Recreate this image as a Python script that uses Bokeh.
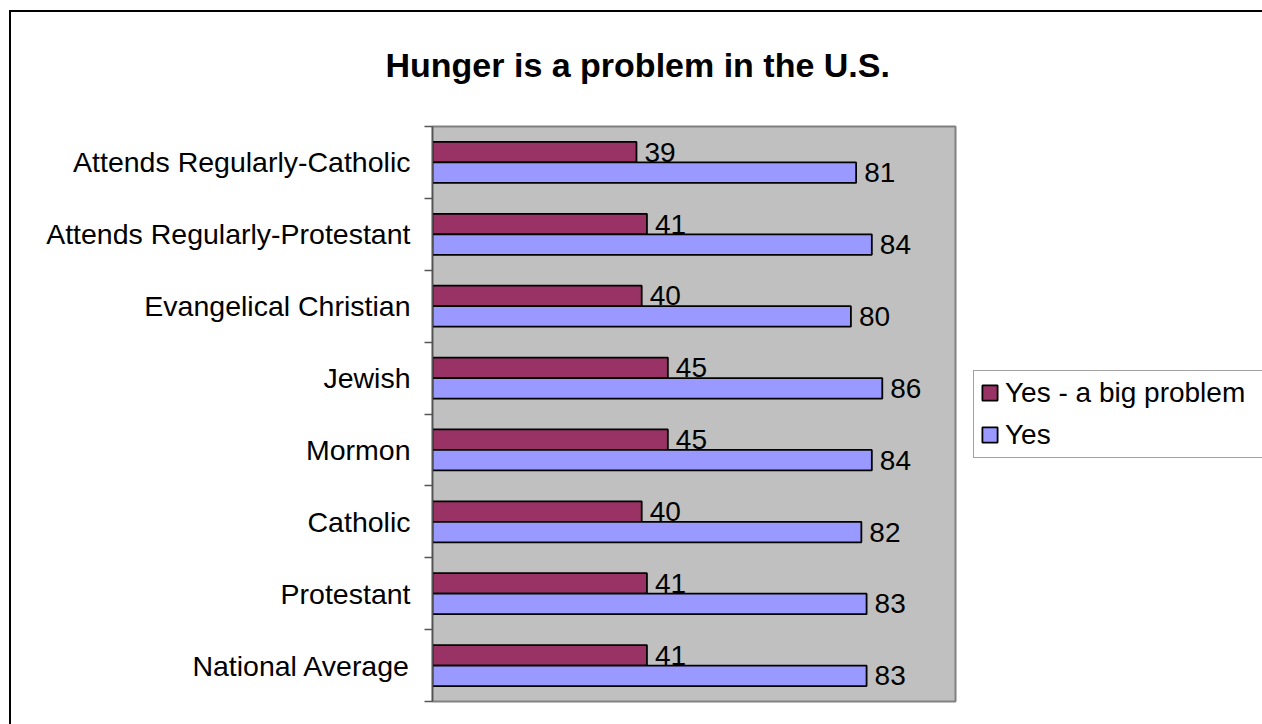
import numpy as np
from bokeh.plotting import figure
from bokeh.models import (ColumnDataSource, Range1d, FixedTicker, Legend, LegendItem, Title)
from bokeh.core.properties import value
from bokeh.embed import file_html
from bokeh.resources import INLINE

# ---- data (bottom to top, as in the chart) ----
categories = ["National Average", "Protestant", "Catholic", "Mormon", "Jewish",
              "Evangelical Christian", "Attends Regularly-Protestant",
              "Attends Regularly-Catholic"]
big_problem = [41, 41, 40, 45, 45, 40, 41, 39]
yes_vals = [83, 83, 82, 84, 86, 80, 84, 81]
series_names = ["Yes - a big problem", "Yes"]
title_text = "Hunger is a problem in the U.S."

FONT = "Liberation Sans"
BAR_H = 0.285

n = len(categories)
centers = np.arange(n) + 0.5
y_big = centers + BAR_H / 2
y_yes = centers - BAR_H / 2

src_big = ColumnDataSource(dict(y=y_big, v=big_problem, t=[str(v) for v in big_problem]))
src_yes = ColumnDataSource(dict(y=y_yes, v=yes_vals, t=[str(v) for v in yes_vals]))

p = figure(frame_width=523, frame_height=575, output_backend="svg", toolbar_location=None,
           x_range=Range1d(0, 100), y_range=Range1d(0, n),
           x_axis_location=None, y_axis_location="left",
           min_border_left=432, min_border_right=307, min_border_top=125,
           min_border_bottom=24)
p.background_fill_color = "#C0C0C0"
p.border_fill_color = "white"
p.border_fill_alpha = 0.0
p.outline_line_color = "#808080"
p.outline_line_width = 2
p.xgrid.visible = False
p.ygrid.visible = False
p.styles = {
    "background": "linear-gradient(#000, #000) 9px 10px / 2px 100% no-repeat, "
                  "linear-gradient(#000, #000) 9px 10px / 100% 2px no-repeat, white"
}

r_big = p.hbar(y="y", left=0, right="v", height=BAR_H, source=src_big,
               fill_color="#993366", line_color="black", line_width=1.8)
r_yes = p.hbar(y="y", left=0, right="v", height=BAR_H, source=src_yes,
               fill_color="#9999FF", line_color="black", line_width=1.8)

for s in (src_big, src_yes):
    p.text(x="v", y="y", text="t", source=s, x_offset=8, y_offset=0,
           text_font=value(FONT), text_font_size="28px", text_color="black",
           text_baseline="middle", text_align="left")

ax = p.yaxis[0]
ax.ticker = FixedTicker(ticks=list(centers), minor_ticks=list(np.arange(n + 1, dtype=float)))
ax.major_label_overrides = {float(c): lab for c, lab in zip(centers, categories)}
ax.major_tick_out = 0
ax.major_tick_in = 0
ax.minor_tick_out = 8
ax.minor_tick_in = 0
ax.minor_tick_line_color = "#555555"
ax.minor_tick_line_width = 1.5
ax.axis_line_color = "#555555"
ax.axis_line_width = 1.5
ax.major_label_standoff = 14
ax.major_label_text_font = FONT
ax.major_label_text_font_size = "28.5px"
ax.major_label_text_color = "black"

legend = Legend(items=[LegendItem(label=series_names[0], renderers=[r_big]),
                       LegendItem(label=series_names[1], renderers=[r_yes])],
                location="center_left", orientation="vertical", margin=18,
                label_text_font=FONT, label_text_font_size="28px",
                label_text_color="black",
                glyph_width=19, glyph_height=19, label_standoff=6,
                padding=6, spacing=10, label_width=270,
                border_line_color="#444444", border_line_width=1.5,
                background_fill_color="white", background_fill_alpha=1.0)
p.add_layout(legend, "right")

title = Title(text=title_text, align="left", offset=-47, standoff=86,
              text_font=FONT, text_font_size="34px", text_font_style="bold",
              text_color="black")
p.add_layout(title, "above")

open("out.html", "w").write(file_html(p, INLINE))
